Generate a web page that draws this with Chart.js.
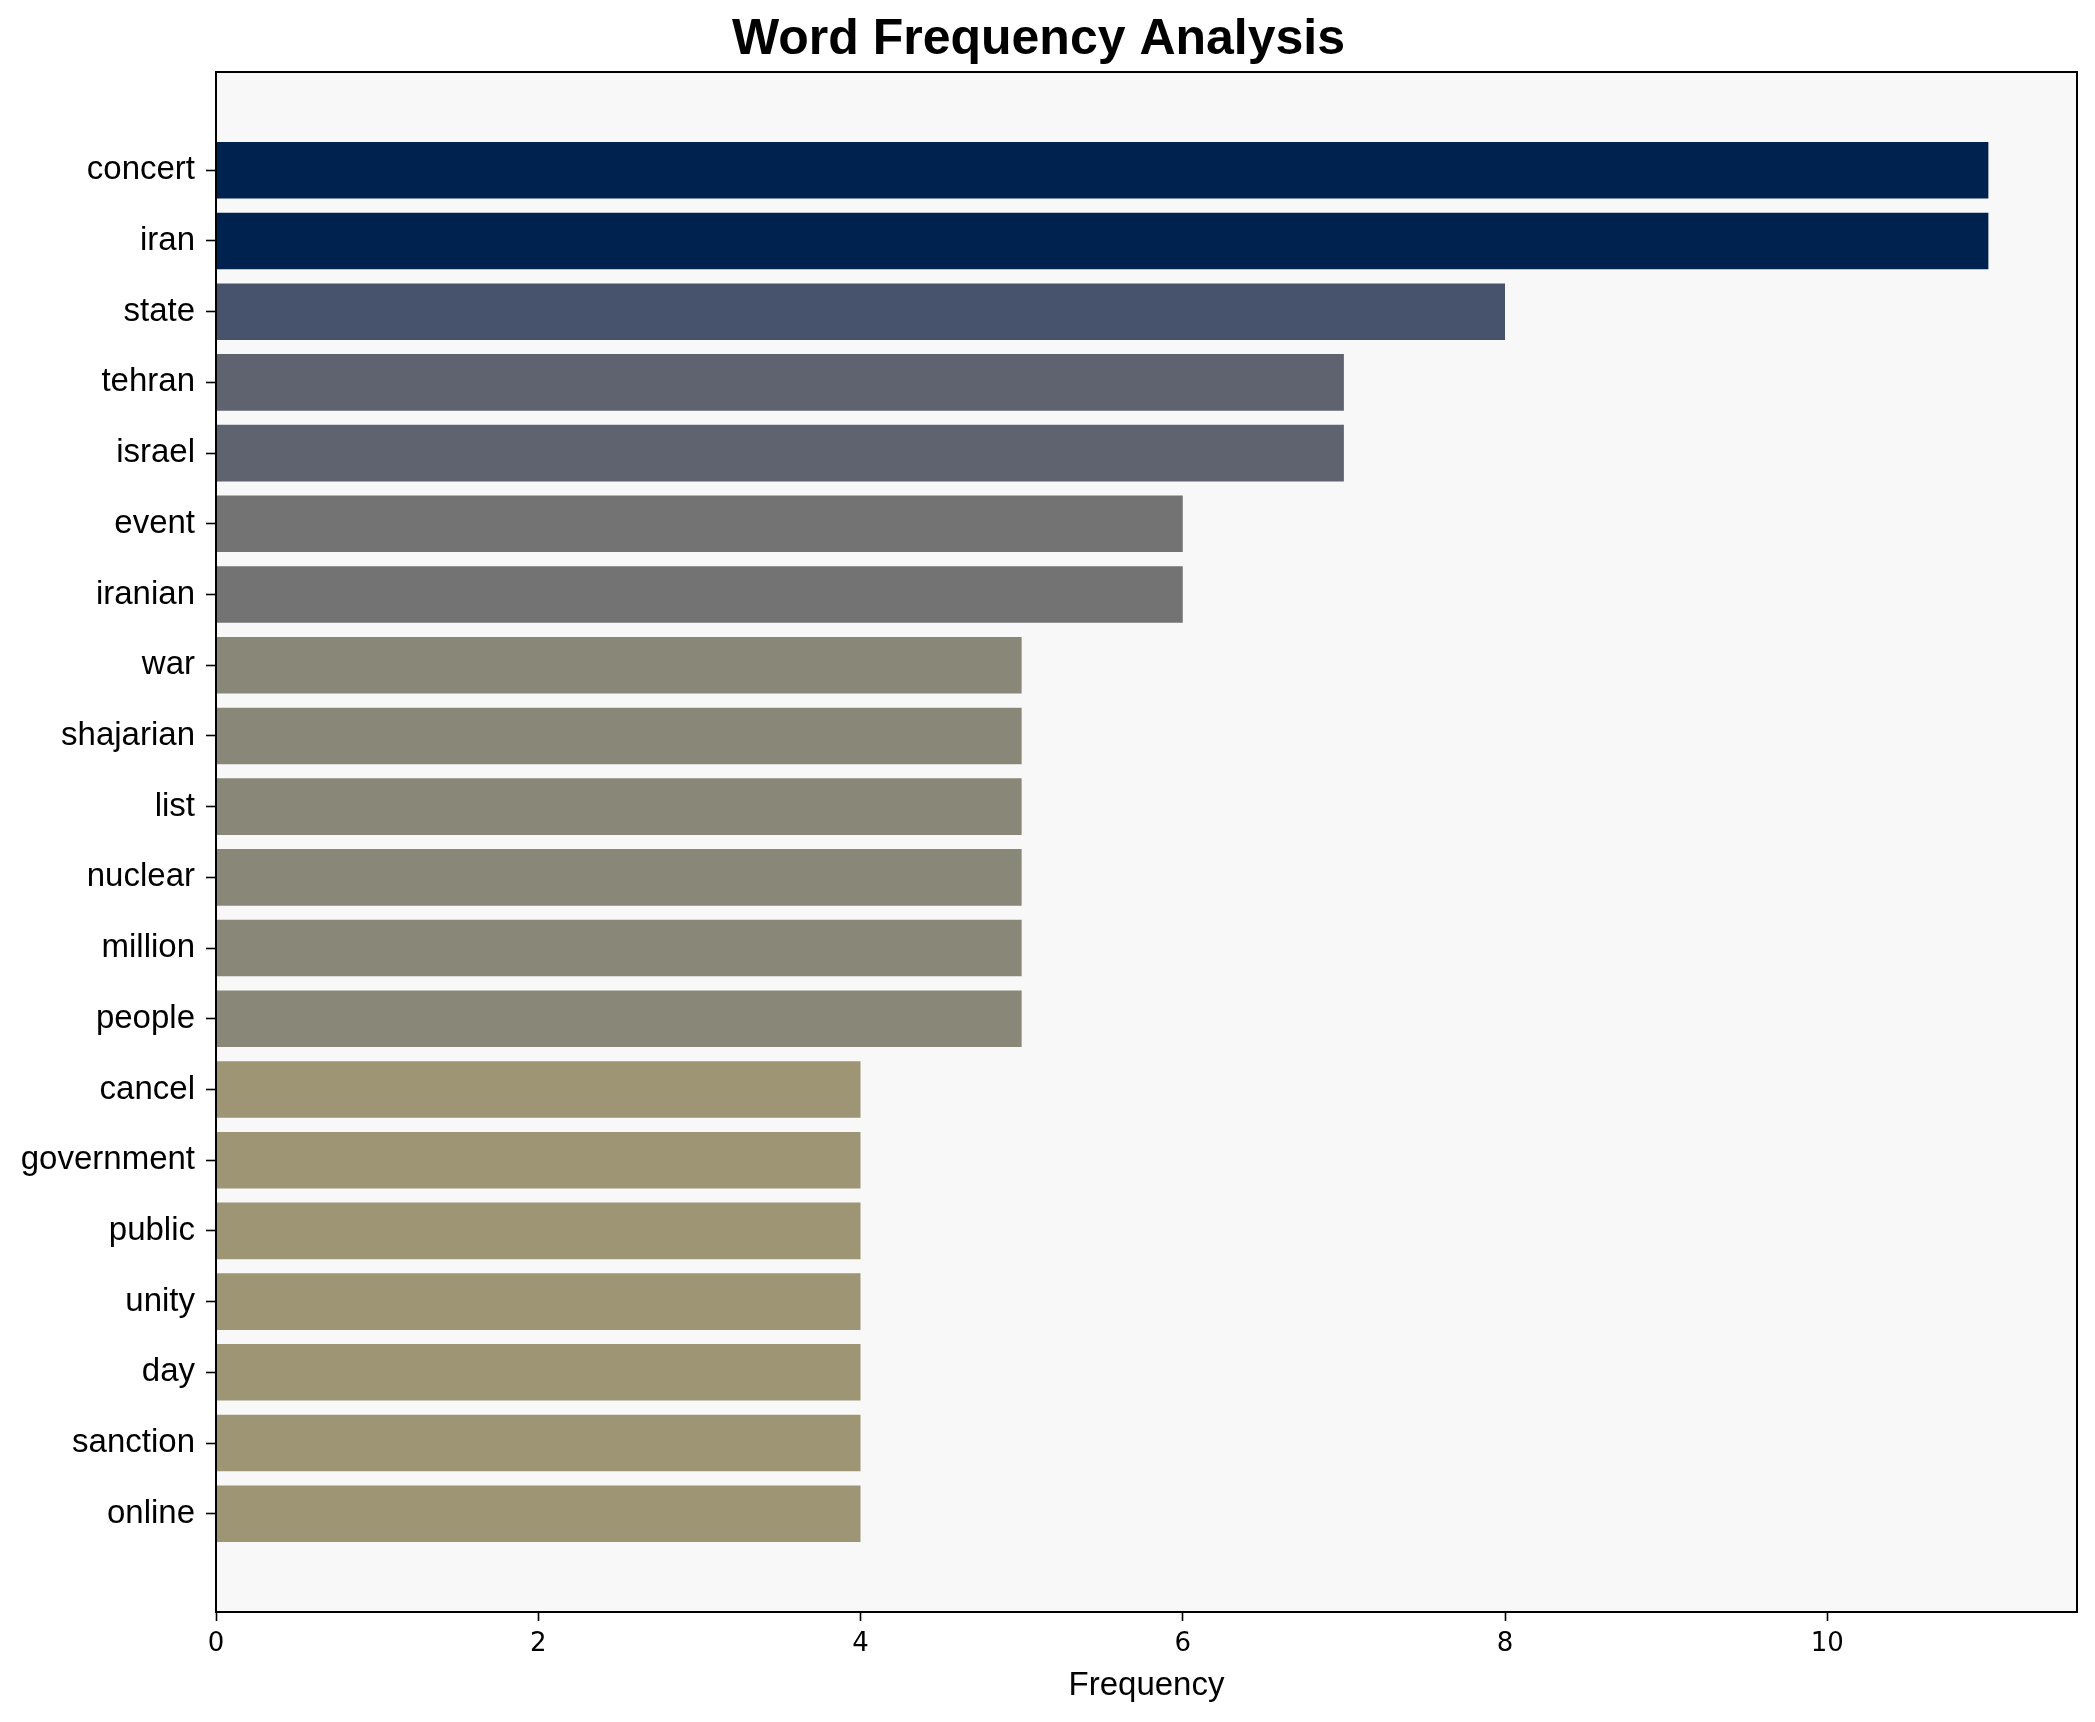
<!DOCTYPE html>
<html>
<head>
<meta charset="utf-8">
<script src="https://cdn.jsdelivr.net/npm/chart.js@4/dist/chart.umd.min.js"></script>
<style>
  body { margin: 0; background: #fff; }
  #wrap { width: 2095px; height: 1722px; }
</style>
</head>
<body>
<div id="wrap"><canvas id="chart" width="2095" height="1722"></canvas></div>
<script>
// Word frequency, top 20 words
var words = ['concert', 'iran', 'state', 'tehran', 'israel', 'event', 'iranian',
    'war', 'shajarian', 'list', 'nuclear', 'million', 'people', 'cancel',
    'government', 'public', 'unity', 'day', 'sanction', 'online'];
var counts = [11, 11, 8, 7, 7, 6, 6, 5, 5, 5, 5, 5, 5, 4, 4, 4, 4, 4, 4, 4];
var xTicks = [0, 2, 4, 6, 8, 10];

// colour per frequency value
var shade = {11: '#00224e', 8: '#47526d', 7: '#5f6370', 6: '#737373', 5: '#898777', 4: '#9e9574'};

var frame = {
    id: 'frame',
    beforeDraw: function (chart) {
        var a = chart.chartArea, c = chart.ctx;
        c.save();
        c.fillStyle = '#f8f8f8';
        c.fillRect(a.left, a.top, a.right - a.left, a.bottom - a.top);
        c.restore();
    },
    afterDatasetsDraw: function (chart) {
        var a = chart.chartArea, c = chart.ctx;
        c.save();
        c.strokeStyle = '#000';
        c.lineWidth = 2;
        c.strokeRect(a.left, a.top, a.right - a.left, a.bottom - a.top);
        c.restore();
    }
};

var ctx = document.getElementById('chart').getContext('2d');
var chart = new Chart(ctx, {
    type: 'bar',
    data: {
        labels: words,
        datasets: [{
            data: counts.map(function (v, i) { return {x: v, y: i}; }),
            backgroundColor: counts.map(function (v) { return shade[v]; }),
            barPercentage: 0.8,
            categoryPercentage: 1.0
        }]
    },
    options: {
        indexAxis: 'y',
        responsive: false,
        animation: false,
        devicePixelRatio: 1,
        layout: { padding: { left: 0, right: 18, top: 0, bottom: 0 } },
        plugins: {
            legend: { display: false },
            tooltip: { enabled: false },
            title: {
                display: true,
                text: 'Word Frequency Analysis',
                color: '#000',
                font: { family: '"Liberation Sans", Arial, sans-serif', size: 50, weight: 'bold', lineHeight: 1.0 },
                padding: { top: 15, bottom: 7 }
            }
        },
        scales: {
            x: {
                type: 'linear',
                min: 0,
                max: 11.55,
                afterFit: function (s) { s.height = 110; },
                afterBuildTicks: function (s) { s.ticks = xTicks.map(function (v) { return {value: v}; }); },
                ticks: {
                    color: '#000',
                    padding: 8,
                    font: { family: '"DejaVu Sans", sans-serif', size: 26 }
                },
                grid: { drawOnChartArea: false, drawTicks: true, tickLength: 9, tickColor: '#000', tickWidth: 1.6 },
                border: { display: false },
                title: {
                    display: true,
                    text: 'Frequency',
                    color: '#000',
                    font: { family: '"Liberation Sans", Arial, sans-serif', size: 33 },
                    padding: { top: 0, bottom: 16 }
                }
            },
            y: {
                type: 'linear',
                reverse: true,
                offset: false,
                min: -1.39,
                max: 20.39,
                afterFit: function (s) { s.width = 216; },
                afterBuildTicks: function (s) { s.ticks = words.map(function (w, i) { return {value: i}; }); },
                ticks: {
                    autoSkip: false,
                    color: '#000',
                    padding: 11,
                    font: { family: '"Liberation Sans", Arial, sans-serif', size: 33 },
                    callback: function (v) { return words[v]; }
                },
                grid: { offset: false, drawOnChartArea: false, drawTicks: true, tickLength: 10, tickColor: '#000', tickWidth: 1.6 },
                border: { display: false }
            }
        }
    },
    plugins: [frame]
});
</script>
</body>
</html>
